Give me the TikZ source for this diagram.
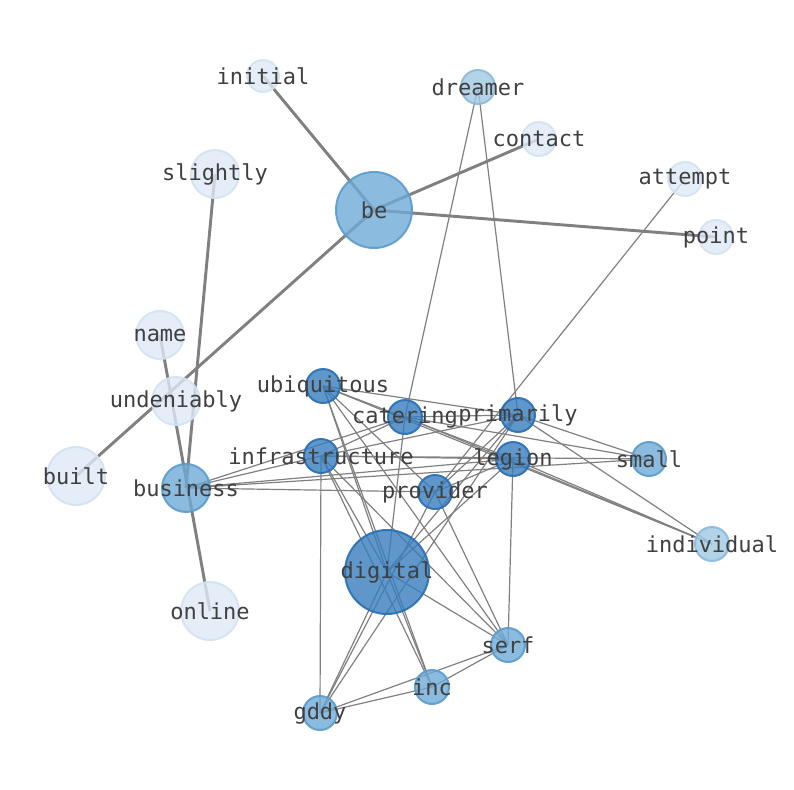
\documentclass[tikz,border=0pt]{standalone}
\usepackage{fontspec}
\setmonofont{DejaVu Sans Mono}
\begin{document}
\begin{tikzpicture}[x=0.75pt,y=-0.75pt,
  lbl/.style={font=\ttfamily\fontsize{16.5}{17}\selectfont,text=black!75},
  nd/.style={circle,inner sep=0pt,minimum size=#1*0.75pt,draw opacity=0.9,fill opacity=0.8,line width=1.5pt},
  c2/.style={fill={rgb,255:red,110;green,170;blue,214},draw={rgb,255:red,90;green,155;blue,205}},
  c3/.style={fill={rgb,255:red,55;green,125;blue,190},draw={rgb,255:red,40;green,110;blue,180}},
  c4/.style={fill={rgb,255:red,160;green,200;blue,228},draw={rgb,255:red,140;green,185;blue,220}},
  c5/.style={fill={rgb,255:red,222;green,233;blue,246},draw={rgb,255:red,212;green,226;blue,242}},
  thk/.style={draw=black!50,line width=2.2pt},
  thn/.style={draw=black!50,line width=0.9pt}]
\useasboundingbox (0,0) rectangle (794,790);
% coordinates
\coordinate (be) at (374,210);
\coordinate (initial) at (263,76);
\coordinate (dreamer) at (478,87);
\coordinate (contact) at (539,139);
\coordinate (attempt) at (685,179);
\coordinate (point) at (716,237);
\coordinate (slightly) at (215,174);
\coordinate (name) at (160,335);
\coordinate (undeniably) at (176,401);
\coordinate (built) at (76,476);
\coordinate (business) at (186,488);
\coordinate (online) at (210,611);
\coordinate (ubiquitous) at (323,386);
\coordinate (catering) at (405,417);
\coordinate (primarily) at (518,415);
\coordinate (infrastructure) at (321,456);
\coordinate (legion) at (513,459);
\coordinate (small) at (649,459);
\coordinate (provider) at (435,492);
\coordinate (individual) at (712,544);
\coordinate (digital) at (387,572);
\coordinate (serf) at (508,645);
\coordinate (inc) at (432,687);
\coordinate (gddy) at (320,713);
% thick edges
\foreach \a/\b in {be/initial,be/contact,be/point,be/built,slightly/business,name/online}
  \draw[thk] (\a)--(\b);
% thin edges
\foreach \a/\b in {dreamer/primarily,dreamer/catering,attempt/provider,
 ubiquitous/primarily,ubiquitous/provider,ubiquitous/serf,ubiquitous/inc,ubiquitous/digital,ubiquitous/individual,ubiquitous/legion,
 catering/infrastructure,catering/business,catering/digital,catering/small,catering/individual,catering/primarily,
 primarily/infrastructure,primarily/provider,primarily/digital,primarily/small,primarily/individual,primarily/gddy,
 infrastructure/legion,infrastructure/small,infrastructure/business,infrastructure/digital,infrastructure/inc,infrastructure/serf,infrastructure/gddy,
 legion/provider,legion/digital,legion/serf,legion/individual,legion/business,
 business/provider,business/small,provider/serf,provider/gddy,
 digital/serf,digital/gddy,digital/inc,serf/inc,serf/gddy,inc/gddy}
  \draw[thn] (\a)--(\b);
% nodes
\foreach \n/\s/\c in {initial/32/c5,dreamer/34/c4,contact/34/c5,attempt/34/c5,point/34/c5,slightly/48/c5,name/48/c5,undeniably/48/c5,built/58/c5,online/58/c5,business/48/c2,be/76/c2,
 ubiquitous/34/c3,catering/34/c3,primarily/34/c3,infrastructure/34/c3,legion/34/c3,small/34/c2,provider/34/c3,individual/34/c4,digital/84/c3,serf/34/c2,inc/34/c2,gddy/34/c2}
  \node[nd=\s,\c] (\n) at (\n) {};
\foreach \n in {initial,dreamer,contact,attempt,point,slightly,name,undeniably,built,online,business,be,ubiquitous,catering,primarily,infrastructure,legion,small,provider,individual,digital,serf,inc,gddy}
  \node[lbl] (\n-l) at (\n) {\n};
\end{tikzpicture}
\end{document}
